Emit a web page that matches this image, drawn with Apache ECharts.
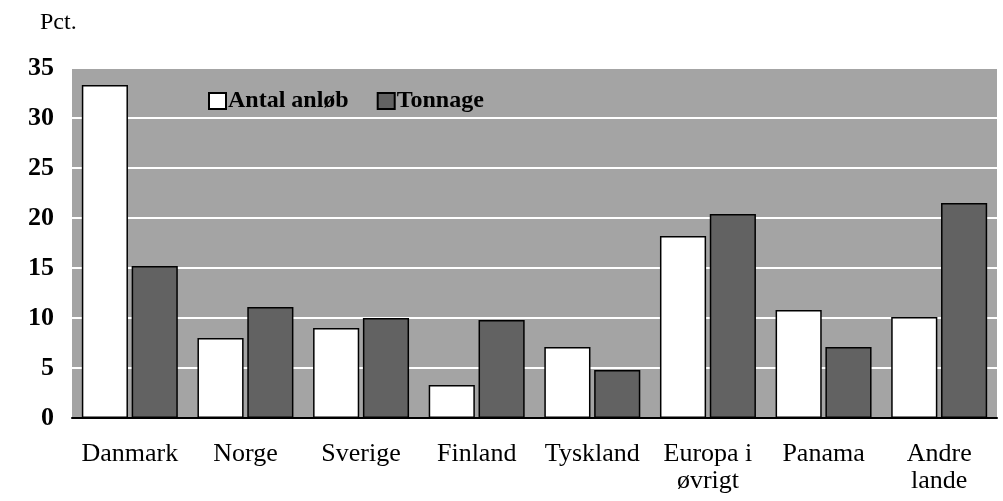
<!DOCTYPE html>
<html>
<head>
<meta charset="utf-8">
<script src="https://cdn.jsdelivr.net/npm/echarts@6/dist/echarts.min.js"></script>
<style>
html,body{margin:0;padding:0;background:#fff;}
#chart{width:1003px;height:501px;}
</style>
</head>
<body>
<div id="chart"></div>
<script>
const categories = ['Danmark', 'Norge', 'Sverige', 'Finland', 'Tyskland', 'Europa i\nøvrigt', 'Panama', 'Andre\nlande'];
const antalAnlob = [33.3, 8.0, 9.0, 3.3, 7.1, 18.2, 10.8, 10.1];
const tonnage = [15.2, 11.1, 10.0, 9.8, 4.8, 20.4, 7.1, 21.5];
const yTicks = [0, 5, 10, 15, 20, 25, 30, 35];

const FONT = '"Liberation Serif", "DejaVu Serif", serif';
const chart = echarts.init(document.getElementById('chart'), null, {renderer: 'canvas'});
chart.setOption({
  animation: false,
  backgroundColor: '#ffffff',
  title: {
    text: 'Pct.',
    left: 35, top: 6,
    textStyle: {fontFamily: FONT, fontSize: 24, fontWeight: 'normal', color: '#000'}
  },
  legend: {
    left: 203, top: 84,
    icon: 'rect',
    itemWidth: 17, itemHeight: 16,
    itemGap: 28,
    textStyle: {fontFamily: FONT, fontSize: 24, fontWeight: 'bold', color: '#000', padding: [0, 0, 0, -3]},
    data: ['Antal anløb', 'Tonnage']
  },
  grid: {
    left: 72, right: 6, top: 68, bottom: 83,
    show: true, backgroundColor: '#a4a4a4', borderWidth: 0
  },
  xAxis: {
    type: 'category',
    data: categories,
    axisLine: {lineStyle: {color: '#000', width: 2}},
    axisTick: {show: false},
    axisLabel: {
      interval: 0, margin: 23,
      fontFamily: FONT, fontSize: 26, color: '#000', lineHeight: 27
    }
  },
  yAxis: {
    type: 'value',
    min: yTicks[0], max: yTicks[yTicks.length - 1], interval: 5,
    axisLine: {show: false},
    axisTick: {show: false},
    splitLine: {
      show: true,
      lineStyle: {color: '#ffffff', width: 2}
    },
    axisLabel: {
      margin: 18,
      fontFamily: FONT, fontSize: 26, fontWeight: 'bold', color: '#000'
    }
  },
  series: [
    {
      name: 'Antal anløb', type: 'bar', data: antalAnlob,
      barGap: '8%', barCategoryGap: '17%',
      itemStyle: {color: '#ffffff', borderColor: '#000', borderWidth: 1.5}
    },
    {
      name: 'Tonnage', type: 'bar', data: tonnage,
      barGap: '8%', barCategoryGap: '17%',
      itemStyle: {color: '#626262', borderColor: '#000', borderWidth: 1.5}
    }
  ]
});
</script>
</body>
</html>
